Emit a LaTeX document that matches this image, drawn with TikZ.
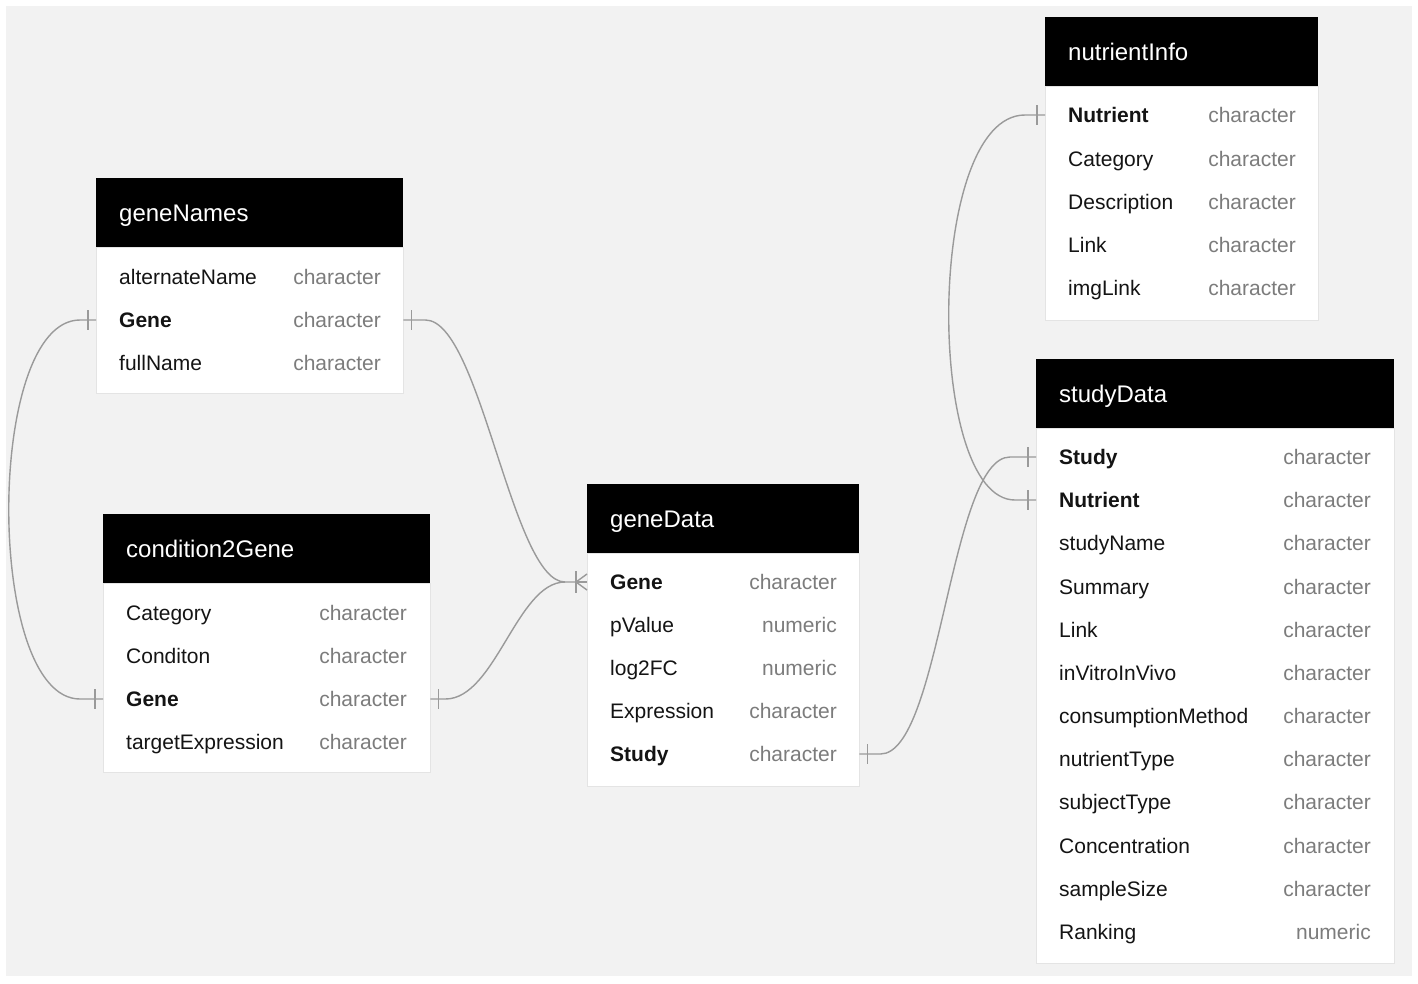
\documentclass[tikz,border=0pt]{standalone}
\usepackage{fontspec}
\setmainfont{Liberation Sans}
\newcommand\fldfont{\fontsize{21}{25}\selectfont}
\newcommand\ttlfont{\fontsize{24}{28}\selectfont}
\definecolor{bggray}{HTML}{F2F2F2}
\definecolor{conngray}{HTML}{9A9A9A}
\definecolor{typegray}{HTML}{7C7C7C}
\definecolor{bodyline}{HTML}{E4E4E4}
\tikzset{
  hdr/.style={fill=black, draw=none, inner sep=0, anchor=north west},
  body/.style={fill=white, draw=bodyline, line width=0.8pt, inner sep=0, anchor=north west},
  row/.style={inner sep=0, minimum height=43, anchor=west},
  ttl/.style={text=white, font=\ttlfont, anchor=base west, inner sep=0},
  fld/.style={text=black!92, font=\fldfont, anchor=base west, inner sep=0},
  typ/.style={text=typegray, font=\fldfont, anchor=base east, inner sep=0},
  conn/.style={draw=conngray, line width=1.4pt}
}
\begin{document}
\begin{tikzpicture}[x=1pt,y=-1pt]
\useasboundingbox (0,0) rectangle (1418,983);
\fill[white] (0,0) rectangle (1418,983);
\fill[bggray] (6,6) rectangle (1412,976);

% ---------- geneNames ----------
\node[body, minimum width=307, minimum height=146] (gnb) at (96,247) {};
\node[hdr, minimum width=307, minimum height=69] (gn) at (96,178) {};
\node[ttl] (gnt) at (119,221.5) {geneNames};
\node[row, minimum width=307] (gn-alt) at (96,277) {};
\node[row, minimum width=307] (gn-gene) at (96,320) {};
\node[row, minimum width=307] (gn-full) at (96,363) {};
\node[fld] (gn-alt-n) at (119,284.5) {alternateName};
\node[typ] (gn-alt-t) at (381,284.5) {character};
\node[fld] (gn-gene-n) at (119,327.5) {\textbf{Gene}};
\node[typ] (gn-gene-t) at (381,327.5) {character};
\node[fld] (gn-full-n) at (119,370.5) {fullName};
\node[typ] (gn-full-t) at (381,370.5) {character};

% ---------- condition2Gene ----------
\node[body, minimum width=327, minimum height=189] (cgb) at (103,583) {};
\node[hdr, minimum width=327, minimum height=69] (cg) at (103,514) {};
\node[ttl] (cgt) at (126,557.5) {condition2Gene};
\node[row, minimum width=327] (cg-cat) at (103,613) {};
\node[row, minimum width=327] (cg-con) at (103,656) {};
\node[row, minimum width=327] (cg-gene) at (103,699) {};
\node[row, minimum width=327] (cg-tgt) at (103,742) {};
\node[fld] (cg-cat-n) at (126,620.5) {Category};
\node[typ] (cg-cat-t) at (407,620.5) {character};
\node[fld] (cg-con-n) at (126,663.5) {Conditon};
\node[typ] (cg-con-t) at (407,663.5) {character};
\node[fld] (cg-gene-n) at (126,706.5) {\textbf{Gene}};
\node[typ] (cg-gene-t) at (407,706.5) {character};
\node[fld] (cg-tgt-n) at (126,749.5) {targetExpression};
\node[typ] (cg-tgt-t) at (407,749.5) {character};

% ---------- geneData ----------
\node[body, minimum width=272, minimum height=233] (gdb) at (587,553) {};
\node[hdr, minimum width=272, minimum height=69] (gd) at (587,484) {};
\node[ttl] (gdt) at (610,527.5) {geneData};
\node[row, minimum width=272] (gd-gene) at (587,582) {};
\node[row, minimum width=272] (gd-pv) at (587,625) {};
\node[row, minimum width=272] (gd-lfc) at (587,668) {};
\node[row, minimum width=272] (gd-exp) at (587,711) {};
\node[row, minimum width=272] (gd-study) at (587,754) {};
\node[fld] (gd-gene-n) at (610,589.5) {\textbf{Gene}};
\node[typ] (gd-gene-t) at (837,589.5) {character};
\node[fld] (gd-pv-n) at (610,632.5) {pValue};
\node[typ] (gd-pv-t) at (837,632.5) {numeric};
\node[fld] (gd-lfc-n) at (610,675.5) {log2FC};
\node[typ] (gd-lfc-t) at (837,675.5) {numeric};
\node[fld] (gd-exp-n) at (610,718.5) {Expression};
\node[typ] (gd-exp-t) at (837,718.5) {character};
\node[fld] (gd-study-n) at (610,761.5) {\textbf{Study}};
\node[typ] (gd-study-t) at (837,761.5) {character};

% ---------- nutrientInfo ----------
\node[body, minimum width=273, minimum height=234] (nib) at (1045,86) {};
\node[hdr, minimum width=273, minimum height=69] (ni) at (1045,17) {};
\node[ttl] (nit) at (1068,60.5) {nutrientInfo};
\node[row, minimum width=273] (ni-nut) at (1045,115) {};
\node[row, minimum width=273] (ni-cat) at (1045,159) {};
\node[row, minimum width=273] (ni-desc) at (1045,202) {};
\node[row, minimum width=273] (ni-link) at (1045,245) {};
\node[row, minimum width=273] (ni-img) at (1045,288) {};
\node[fld] (ni-nut-n) at (1068,122.5) {\textbf{Nutrient}};
\node[typ] (ni-nut-t) at (1296,122.5) {character};
\node[fld] (ni-cat-n) at (1068,166.5) {Category};
\node[typ] (ni-cat-t) at (1296,166.5) {character};
\node[fld] (ni-desc-n) at (1068,209.5) {Description};
\node[typ] (ni-desc-t) at (1296,209.5) {character};
\node[fld] (ni-link-n) at (1068,252.5) {Link};
\node[typ] (ni-link-t) at (1296,252.5) {character};
\node[fld] (ni-img-n) at (1068,295.5) {imgLink};
\node[typ] (ni-img-t) at (1296,295.5) {character};

% ---------- studyData ----------
\node[body, minimum width=358, minimum height=535] (sdb) at (1036,428) {};
\node[hdr, minimum width=358, minimum height=69] (sd) at (1036,359) {};
\node[ttl] (sdt) at (1059,402.5) {studyData};
\node[row, minimum width=358] (sd-study) at (1036,457) {};
\node[row, minimum width=358] (sd-nut) at (1036,500) {};
\node[fld] (sd-study-n) at (1059,464.5) {\textbf{Study}};
\node[typ] (sd-study-t) at (1371,464.5) {character};
\node[fld] (sd-nut-n) at (1059,507.5) {\textbf{Nutrient}};
\node[typ] (sd-nut-t) at (1371,507.5) {character};
\node[fld] (sd-sn-n) at (1059,550.5) {studyName};
\node[typ] (sd-sn-t) at (1371,550.5) {character};
\node[fld] (sd-sum-n) at (1059,594.5) {Summary};
\node[typ] (sd-sum-t) at (1371,594.5) {character};
\node[fld] (sd-link-n) at (1059,637.5) {Link};
\node[typ] (sd-link-t) at (1371,637.5) {character};
\node[fld] (sd-ivv-n) at (1059,680.5) {inVitroInVivo};
\node[typ] (sd-ivv-t) at (1371,680.5) {character};
\node[fld] (sd-cm-n) at (1059,723.5) {consumptionMethod};
\node[typ] (sd-cm-t) at (1371,723.5) {character};
\node[fld] (sd-nt-n) at (1059,766.5) {nutrientType};
\node[typ] (sd-nt-t) at (1371,766.5) {character};
\node[fld] (sd-st-n) at (1059,809.5) {subjectType};
\node[typ] (sd-st-t) at (1371,809.5) {character};
\node[fld] (sd-conc-n) at (1059,853.5) {Concentration};
\node[typ] (sd-conc-t) at (1371,853.5) {character};
\node[fld] (sd-ss-n) at (1059,896.5) {sampleSize};
\node[typ] (sd-ss-t) at (1371,896.5) {character};
\node[fld] (sd-rank-n) at (1059,939.5) {Ranking};
\node[typ] (sd-rank-t) at (1371,939.5) {numeric};

% ---------- connectors ----------
% geneNames.Gene -> geneData.Gene
\draw[conn] (gn-gene.east) -- ++(22,0) .. controls ++(55,0) and ([xshift=-75]gd-gene.west) .. ([xshift=-22]gd-gene.west) -- ([xshift=-11]gd-gene.west);
% condition2Gene.Gene -> geneData.Gene
\draw[conn] (cg-gene.east) -- ++(15,0) .. controls ++(50,0) and ([xshift=-70]gd-gene.west) .. ([xshift=-22]gd-gene.west);
% geneNames.Gene -> condition2Gene.Gene (left loop)
\draw[conn] (gn-gene.west) -- ++(-16,0) .. controls (-15,320) and (-15,699) .. ([xshift=-23]cg-gene.west) -- (cg-gene.west);
% geneData.Study -> studyData.Study
\draw[conn] (gd-study.east) -- ++(21,0) .. controls ++(60,0) and ([xshift=-86]sd-study.west) .. ([xshift=-26]sd-study.west) -- (sd-study.west);
% nutrientInfo.Nutrient -> studyData.Nutrient
\draw[conn] (ni-nut.west) -- ++(-20,0) .. controls (925,115) and (925,500) .. ([xshift=-21]sd-nut.west) -- (sd-nut.west);

% one-marks
\draw[conn] ([xshift=8]gn-gene.east) +(0,-10) -- +(0,10);
\draw[conn] ([xshift=-8]gn-gene.west) +(0,-10) -- +(0,10);
\draw[conn] ([xshift=8]cg-gene.east) +(0,-10) -- +(0,10);
\draw[conn] ([xshift=-8]cg-gene.west) +(0,-10) -- +(0,10);
\draw[conn] ([xshift=8]gd-study.east) +(0,-10) -- +(0,10);
\draw[conn] ([xshift=-8]sd-study.west) +(0,-10) -- +(0,10);
\draw[conn] ([xshift=-8]sd-nut.west) +(0,-10) -- +(0,10);
\draw[conn] ([xshift=-8]ni-nut.west) +(0,-10) -- +(0,10);
% crow's foot (many) at geneData.Gene
\draw[conn] ([xshift=-11]gd-gene.west) +(0,-11) -- +(0,11);
\draw[conn] ([xshift=-11]gd-gene.west) -- ([yshift=-8]gd-gene.west);
\draw[conn] ([xshift=-11]gd-gene.west) -- (gd-gene.west);
\draw[conn] ([xshift=-11]gd-gene.west) -- ([yshift=8]gd-gene.west);
\end{tikzpicture}
\end{document}
